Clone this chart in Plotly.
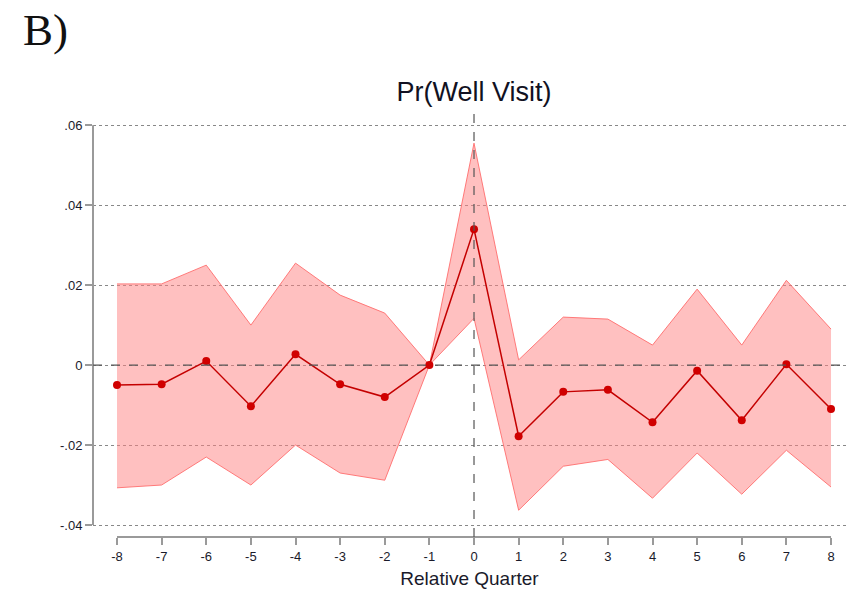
import plotly.graph_objects as go

quarters = list(range(-8, 9))
estimate = [-0.0050, -0.0048, 0.0010, -0.0103, 0.0027, -0.0048, -0.0080, 0.0, 0.0340,
            -0.0178, -0.0067, -0.0062, -0.0143, -0.0014, -0.0138, 0.0002, -0.0110]
upper = [0.0203, 0.0203, 0.0250, 0.0100, 0.0255, 0.0175, 0.0130, 0.0, 0.0555,
         0.0013, 0.0120, 0.0115, 0.0050, 0.0190, 0.0050, 0.0212, 0.0090]
lower = [-0.0307, -0.0300, -0.0230, -0.0300, -0.0200, -0.0270, -0.0288, 0.0, 0.0117,
         -0.0363, -0.0253, -0.0236, -0.0333, -0.0220, -0.0323, -0.0213, -0.0305]

y_ticks = [-0.04, -0.02, 0, 0.02, 0.04, 0.06]
y_ticklabels = ["-.04", "-.02", "0", ".02", ".04", ".06"]
x_ticks = quarters
x_ticklabels = [str(q) for q in quarters]

fig = go.Figure()
fig.add_trace(go.Scatter(x=quarters, y=upper, mode="lines",
                         line=dict(color="rgba(255,110,110,0.9)", width=1),
                         hoverinfo="skip", showlegend=False))
fig.add_trace(go.Scatter(x=quarters, y=lower, mode="lines", fill="tonexty",
                         fillcolor="rgba(255,130,130,0.5)",
                         line=dict(color="rgba(255,110,110,0.9)", width=1),
                         hoverinfo="skip", showlegend=False))
fig.add_trace(go.Scatter(x=quarters, y=estimate, mode="lines+markers",
                         line=dict(color="#C40000", width=1.5),
                         marker=dict(color="#D00000", size=8),
                         showlegend=False))

grey = "#9a9a9a"
fig.add_shape(type="line", xref="paper", yref="y", x0=0, x1=0, y0=-0.04, y1=0.06,
              line=dict(color=grey, width=2), layer="above")
fig.add_shape(type="line", xref="x", yref="paper", x0=-8, x1=8, y0=0, y1=0,
              line=dict(color=grey, width=2), layer="above")
fig.add_shape(type="line", xref="paper", yref="y", x0=0, x1=1, y0=0, y1=0,
              line=dict(color="#555555", width=1.2, dash="dash"), layer="above")
fig.add_shape(type="line", xref="x", yref="paper", x0=0, x1=0, y0=0, y1=1,
              line=dict(color="#555555", width=1.2, dash="dash"), layer="above")

fig.update_layout(
    width=846, height=596,
    margin=dict(l=93, r=0, t=110, b=59),
    paper_bgcolor="white", plot_bgcolor="white",
    font=dict(family="Liberation Sans, Arial, sans-serif", color="#1a1a2a"),
    title=dict(text="Pr(Well Visit)", x=474 / 846, xanchor="center",
               y=1 - 92 / 596, yanchor="middle",
               font=dict(size=27, color="#111122")),
    xaxis=dict(range=[-8.538, 8.336], tickmode="array", tickvals=x_ticks,
               ticktext=x_ticklabels, showgrid=False, zeroline=False, showline=False,
               ticks="outside", ticklen=7, tickwidth=2, tickcolor=grey,
               tickfont=dict(size=13),
               title=dict(text="Relative Quarter", font=dict(size=19), standoff=9)),
    yaxis=dict(range=[-0.043, 0.0638], tickmode="array", tickvals=y_ticks,
               ticktext=y_ticklabels, showgrid=True, gridcolor="#888888",
               griddash="dot", gridwidth=1, zeroline=False, showline=False,
               ticks="outside", ticklen=7, tickwidth=2, tickcolor=grey,
               tickfont=dict(size=13)),
    annotations=[dict(text="B)", xref="paper", yref="paper",
                      x=-93 / 753 + 21 / 753, y=1 + (110 - 30) / 427,
                      xanchor="left", yanchor="middle", showarrow=False,
                      font=dict(family="Liberation Serif, Times New Roman, serif",
                                size=45, color="#111111"))],
)

fig.write_html("out.html", config={"displayModeBar": False},
               post_script="document.body.style.margin='0';document.body.style.overflow='hidden';")
